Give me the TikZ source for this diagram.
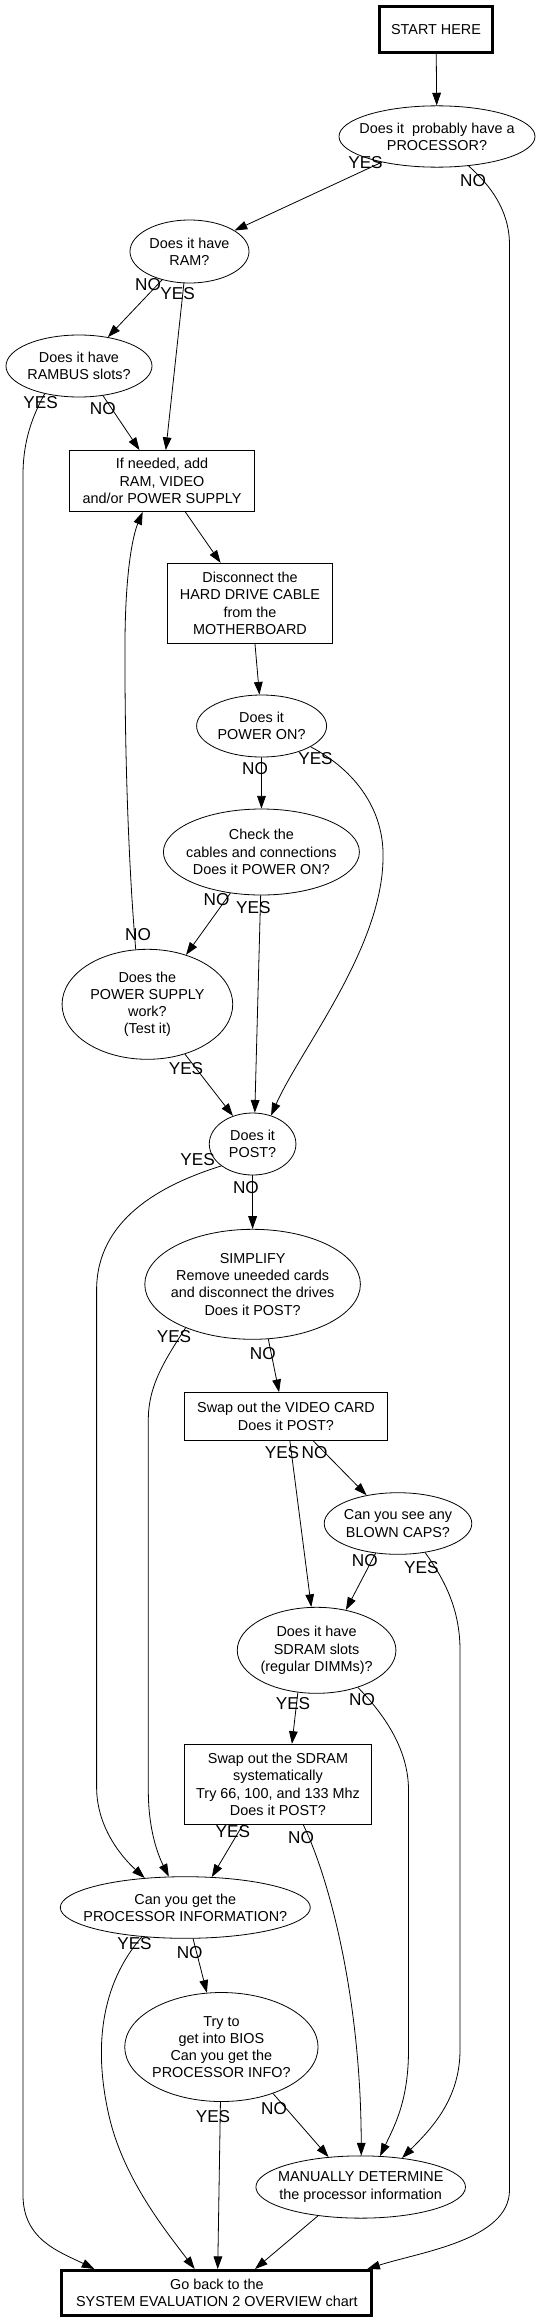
\documentclass[tikz,border=0pt]{standalone}
\usepackage{fontspec}
\setmainfont{Liberation Sans}
\usetikzlibrary{shapes.geometric,arrows.meta}
\begin{document}
\begin{tikzpicture}[x=0.75pt,y=-0.75pt,
  txt/.style={font=\fontsize{10.8}{12.9}\selectfont, align=center, inner sep=-60pt},
  ell/.style={txt, ellipse, draw, line width=0.6pt},
  box/.style={txt, rectangle, draw, line width=0.7pt},
  tbox/.style={txt, rectangle, draw, line width=2.2pt},
  lab/.style={font=\fontsize{12.9}{14}\selectfont, inner sep=0pt},
  edge/.style={line width=0.6pt, -{Triangle[length=9.5pt,width=6.5pt]}},
]
\fill[white] (0,0) rectangle (540,2323);
\useasboundingbox (0,0) rectangle (540,2323);

% nodes
\node[tbox, minimum width=84.75pt, minimum height=34.5pt] (start) at (436,29.5) {START HERE};
\node[ell, minimum width=147pt, minimum height=46pt] (proc) at (437,136.5) {Does it\ \ probably have a\\PROCESSOR?};
\node[ell, minimum width=89.25pt, minimum height=47.25pt] (ram) at (189.5,251.5) {Does it have\\RAM?};
\node[ell, minimum width=109.5pt, minimum height=46.5pt] (rambus) at (79,366) {Does it have\\RAMBUS slots?};
\node[box, minimum width=138.4pt, minimum height=45.75pt] (add) at (162,481) {If needed, add\\RAM, VIDEO\\and/or POWER SUPPLY};
\node[box, minimum width=123.75pt, minimum height=60pt] (disc) at (250,603.3) {Disconnect the\\HARD DRIVE CABLE\\from the\\MOTHERBOARD};
\node[ell, minimum width=97.5pt, minimum height=46.5pt] (poweron) at (261.6,726) {Does it\\POWER ON?};
\node[ell, minimum width=147pt, minimum height=64.5pt] (check) at (261.4,852) {Check the\\cables and connections\\Does it POWER ON?};
\node[ell, minimum width=128pt, minimum height=82.5pt] (psu) at (147.4,1004.3) {Does the\\POWER SUPPLY\\work?\\(Test it)};
\node[ell, minimum width=65pt, minimum height=46.5pt] (post) at (252.6,1144) {Does it\\POST?};
\node[ell, minimum width=161.7pt, minimum height=82.5pt] (simplify) at (252.6,1284.3) {SIMPLIFY\\Remove uneeded cards\\and disconnect the drives\\Does it POST?};
\node[box, minimum width=152.6pt, minimum height=35.5pt] (video) at (286,1416.3) {Swap out the VIDEO CARD\\Does it POST?};
\node[ell, minimum width=110.7pt, minimum height=46.2pt] (blown) at (398,1523.5) {Can you see any\\BLOWN CAPS?};
\node[ell, minimum width=119pt, minimum height=64.5pt] (sdram) at (316.6,1650.3) {Does it have\\SDRAM slots\\(regular DIMMs)?};
\node[box, minimum width=140.25pt, minimum height=60pt] (swap) at (278,1784.3) {Swap out the SDRAM\\systematically\\Try 66, 100, and 133 Mhz\\Does it POST?};
\node[ell, minimum width=187.5pt, minimum height=46.2pt] (procinfo) at (185.3,1907.5) {Can you get the\\PROCESSOR INFORMATION?};
\node[ell, minimum width=145pt, minimum height=81.75pt] (bios) at (221.4,2047) {Try to\\get into BIOS\\Can you get the\\PROCESSOR INFO?};
\node[ell, minimum width=157.2pt, minimum height=46.7pt] (manual) at (360.7,2187) {MANUALLY DETERMINE\\the processor information};
\node[tbox, minimum width=232.5pt, minimum height=33.5pt] (goback) at (216.9,2292.8) {Go back to the\\SYSTEM EVALUATION 2 OVERVIEW chart};

% edges
\draw[edge] (start) -- (proc);
\draw[edge] (proc.205) -- (ram.25);
\draw[edge] (proc.-43) .. controls (490,185) and (509.5,210) .. (509.5,245) -- (509.5,2190) .. controls (509.5,2240) and (420,2252) .. (goback.9.5);
\draw[edge] (ram.226) -- (rambus.45);
\draw[edge] (ram.-100) -- (add.83.4);
\draw[edge] (rambus.219) .. controls (33,415) and (23,440) .. (23,475) -- (23,2195) .. controls (23,2240) and (60,2252) .. (goback.169.4);
\draw[edge] (rambus.-51) -- (add.126.4);
\draw[edge] (add.-53.8) -- (disc.126.2);
\draw[edge] (disc.-83.6) -- (poweron.94);
\draw[edge] (poweron) -- (check);
\draw[edge] (poweron.-23) .. controls (355,770) and (385,810) .. (383,860) .. controls (381,950) and (300,1050) .. (post.57);
\draw[edge] (check.233.4) -- (psu.52);
\draw[edge] (check.-91.5) -- (post.86.5);
\draw[edge] (psu.102) .. controls (128,860) and (124.5,740) .. (125,640) .. controls (125.5,570) and (133,535) .. (add.238.3);
\draw[edge] (psu.-53) -- (post.125);
\draw[edge] (post) -- (simplify);
\draw[edge] (post.215) .. controls (160,1185) and (96.6,1220) .. (96.6,1290) -- (96.6,1787) .. controls (96.6,1830) and (125,1860) .. (procinfo.144);
\draw[edge] (simplify.-74) -- (video.106.7);
\draw[edge] (simplify.213) .. controls (165,1360) and (148.3,1385) .. (148.3,1420) -- (148.3,1790) .. controls (148.3,1830) and (158,1855) .. (procinfo.118);
\draw[edge] (video.-81) -- (sdram.97);
\draw[edge] (video.-42.3) -- (blown.138);
\draw[edge] (blown.233) -- (sdram.54);
\draw[edge] (blown.-47) .. controls (445,1580) and (460,1610) .. (460,1650) -- (460,2050) .. controls (460,2100) and (430,2130) .. (manual.35);
\draw[edge] (sdram.246) -- (swap.71.5);
\draw[edge] (sdram.-42) .. controls (385,1715) and (408.5,1750) .. (408.5,1790) -- (408.5,2050) .. controls (408.5,2100) and (395,2125) .. (manual.58.6);
\draw[edge] (swap.229) -- (procinfo.49.5);
\draw[edge] (swap.-58) .. controls (330,1880) and (361,2000) .. (manual.89);
\draw[edge] (procinfo.-76) -- (bios.105);
\draw[edge] (procinfo.214) .. controls (100,1985) and (93,2050) .. (110,2120) .. controls (125,2180) and (165,2230) .. (goback.133);
\draw[edge] (bios.-91) -- (goback.88);
\draw[edge] (bios.-42.5) -- (manual.137);
\draw[edge] (manual.214) -- (goback.32);

% edge labels
\node[lab] (l1) at (365.5,163) {YES};
\node[lab] (l2) at (473,181) {NO};
\node[lab] (l3) at (148,285) {NO};
\node[lab] (l4) at (177.6,294) {YES};
\node[lab] (l5) at (40.7,403) {YES};
\node[lab] (l6) at (102.8,409) {NO};
\node[lab] (l7) at (255,769) {NO};
\node[lab] (l8) at (315.5,759) {YES};
\node[lab] (l9) at (216.6,900) {NO};
\node[lab] (l10) at (253.4,908) {YES};
\node[lab] (l11) at (138,935) {NO};
\node[lab] (l12) at (186,1068.3) {YES};
\node[lab] (l13) at (197.6,1159.3) {YES};
\node[lab] (l14) at (245.9,1187.7) {NO};
\node[lab] (l15) at (174,1336.7) {YES};
\node[lab] (l16) at (262.8,1354) {NO};
\node[lab] (l17) at (282,1452.7) {YES};
\node[lab] (l18) at (314.5,1452.7) {NO};
\node[lab] (l19) at (364.8,1561) {NO};
\node[lab] (l20) at (421.4,1567.3) {YES};
\node[lab] (l21) at (293,1703.3) {YES};
\node[lab] (l22) at (362,1700) {NO};
\node[lab] (l23) at (232.8,1831.7) {YES};
\node[lab] (l24) at (301,1837.3) {NO};
\node[lab] (l25) at (134.5,1943.3) {YES};
\node[lab] (l26) at (189.7,1952.7) {NO};
\node[lab] (l27) at (213,2116.7) {YES};
\node[lab] (l28) at (274,2108.3) {NO};
\end{tikzpicture}
\end{document}
